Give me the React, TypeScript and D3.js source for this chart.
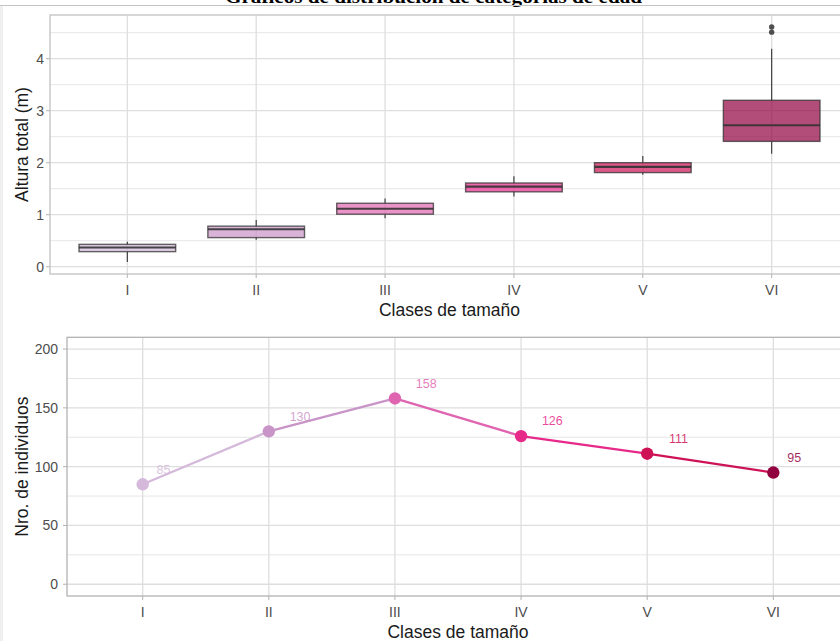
import React from 'react';
import * as d3 from 'd3';

const categories = ['I', 'II', 'III', 'IV', 'V', 'VI'];
const boxMin = [0.09, 0.52, 0.93, 1.35, 1.77, 2.17];
const boxQ1 = [0.29, 0.56, 1.01, 1.44, 1.81, 2.41];
const boxMedian = [0.37, 0.72, 1.115, 1.54, 1.92, 2.72];
const boxQ3 = [0.43, 0.78, 1.22, 1.61, 2.0, 3.2];
const boxMax = [0.48, 0.9, 1.31, 1.74, 2.13, 4.19];
const outliersVI = [4.61, 4.51];
const counts = [85, 130, 158, 126, 111, 95];
const colors = ['#d4b9da', '#c994c7', '#df65b0', '#e7298a', '#ce1256', '#91003f'];
const topTicks = [0, 1, 2, 3, 4];
const topMinor = [0.5, 1.5, 2.5, 3.5, 4.5];
const botTicks = [0, 50, 100, 150, 200];
const botMinor = [25, 75, 125, 175];

const title = 'Gráficos de distribución de categorías de edad';
const xTitle = 'Clases de tamaño';
const yTitleTop = 'Altura total (m)';
const yTitleBot = 'Nro. de individuos';

const FONT = '"Liberation Sans", Arial, sans-serif';

export default function App() {
  // top panel
  const tL = 50, tR = 849, tT = 15, tB = 274;
  const xTop = d3.scalePoint<string>().domain(categories).range([tL, tR]).padding(0.6);
  const yTop = d3.scaleLinear().domain([-0.14, 4.84]).range([tB, tT]);
  const bw = xTop.step() * 0.75;

  // bottom panel
  const bL = 67, bR = 849, bT = 337.3, bB = 596;
  const xBot = d3.scalePoint<string>().domain(categories).range([bL, bR]).padding(0.6);
  const yBot = d3.scaleLinear().domain([-10, 210]).range([bB, bT]);

  const pts = categories.map((c, i) => [xBot(c)!, yBot(counts[i])] as [number, number]);
  const lineGen = d3.line();

  return (
    <svg width={840} height={641} style={{ position: 'absolute', left: 0, top: 0, background: '#fff' }} fontFamily={FONT}>
      <rect x={0} y={0} width={840} height={641} fill="#fff" />
      {/* page decorations */}
      <text x={433.5} y={2.5} textAnchor="middle" fontFamily='"Liberation Serif", "Times New Roman", serif' fontWeight="bold" fontSize={18} textLength={417} lengthAdjust="spacingAndGlyphs" fill="#000">{title}</text>
      <line x1={0} x2={840} y1={5.5} y2={5.5} stroke="#c4c4c4" strokeWidth={1} />
      <rect x={0} y={6} width={3} height={635} fill="#efefef" />

      {/* ===== TOP PANEL ===== */}
      <g>
        {topMinor.map((v) => (
          <line key={'tm' + v} x1={tL} x2={tR} y1={yTop(v)} y2={yTop(v)} stroke="#e6e6e6" strokeWidth={1} />
        ))}
        {topTicks.map((v) => (
          <line key={'tM' + v} x1={tL} x2={tR} y1={yTop(v)} y2={yTop(v)} stroke="#dedede" strokeWidth={1.3} />
        ))}
        {categories.map((c) => (
          <line key={'tv' + c} x1={xTop(c)} x2={xTop(c)} y1={tT} y2={tB} stroke="#dedede" strokeWidth={1.3} />
        ))}
        {categories.map((c, i) => {
          const cx = xTop(c)!;
          return (
            <g key={'box' + c}>
              <line x1={cx} x2={cx} y1={yTop(boxMax[i])} y2={yTop(boxQ3[i])} stroke="#333" strokeWidth={1.1} />
              <line x1={cx} x2={cx} y1={yTop(boxQ1[i])} y2={yTop(boxMin[i])} stroke="#333" strokeWidth={1.1} />
              <rect x={cx - bw / 2} y={yTop(boxQ3[i])} width={bw} height={yTop(boxQ1[i]) - yTop(boxQ3[i])} fill={colors[i]} fillOpacity={0.7} stroke="#333" strokeOpacity={0.75} strokeWidth={1.4} />
              <line x1={cx - bw / 2} x2={cx + bw / 2} y1={yTop(boxMedian[i])} y2={yTop(boxMedian[i])} stroke="#333" strokeOpacity={0.9} strokeWidth={2.2} />
            </g>
          );
        })}
        {outliersVI.map((v, k) => (
          <circle key={'o' + k} cx={xTop('VI')} cy={yTop(v)} r={2.7} fill="#333" fillOpacity={0.85} />
        ))}
        <rect x={tL} y={tT} width={tR - tL} height={tB - tT} fill="none" stroke="#cccccc" strokeWidth={1.6} />
        {topTicks.map((v) => (
          <g key={'tyt' + v}>
            <line x1={tL - 4} x2={tL} y1={yTop(v)} y2={yTop(v)} stroke="#b3b3b3" strokeWidth={1} />
            <text x={tL - 6} y={yTop(v)} dy="0.35em" textAnchor="end" fontSize={14} fill="#4d4d4d">{v}</text>
          </g>
        ))}
        {categories.map((c) => (
          <g key={'txt' + c}>
            <line x1={xTop(c)} x2={xTop(c)} y1={tB} y2={tB + 4} stroke="#b3b3b3" strokeWidth={1} />
            <text x={xTop(c)} y={290} dy="0.35em" textAnchor="middle" fontSize={14} fill="#4d4d4d">{c}</text>
          </g>
        ))}
        <text x={(tL + tR) / 2} y={310} dy="0.35em" textAnchor="middle" fontSize={17.5} fill="#1a1a1a">{xTitle}</text>
        <text transform={`translate(22,${(tT + tB) / 2}) rotate(-90)`} dy="0.35em" textAnchor="middle" fontSize={17.5} fill="#1a1a1a">{yTitleTop}</text>
      </g>

      {/* ===== BOTTOM PANEL ===== */}
      <g>
        {botMinor.map((v) => (
          <line key={'bm' + v} x1={bL} x2={bR} y1={yBot(v)} y2={yBot(v)} stroke="#e6e6e6" strokeWidth={1} />
        ))}
        {botTicks.map((v) => (
          <line key={'bM' + v} x1={bL} x2={bR} y1={yBot(v)} y2={yBot(v)} stroke="#dedede" strokeWidth={1.3} />
        ))}
        {categories.map((c) => (
          <line key={'bv' + c} x1={xBot(c)} x2={xBot(c)} y1={bT} y2={bB} stroke="#dedede" strokeWidth={1.3} />
        ))}
        {pts.slice(0, -1).map((p, i) => (
          <path key={'seg' + i} d={lineGen([p, pts[i + 1]])!} stroke={colors[i]} strokeWidth={2.3} fill="none" />
        ))}
        {pts.map((p, i) => (
          <circle key={'pt' + i} cx={p[0]} cy={p[1]} r={6.2} fill={colors[i]} />
        ))}
        {counts.map((v, i) => {
          const s = String(v);
          const w = s.length * 0.556 * 12.5;
          return (
            <text key={'lab' + i} x={pts[i][0] + 1.5 * w} y={pts[i][1] - 15} dy="0.35em" textAnchor="middle" fontSize={12.5} fill={colors[i]} fillOpacity={0.85}>{s}</text>
          );
        })}
        <rect x={bL} y={bT} width={bR - bL} height={bB - bT} fill="none" stroke="#b3b3b3" strokeWidth={1.3} />
        {botTicks.map((v) => (
          <g key={'byt' + v}>
            <line x1={bL - 4} x2={bL} y1={yBot(v)} y2={yBot(v)} stroke="#b3b3b3" strokeWidth={1} />
            <text x={bL - 9} y={yBot(v)} dy="0.35em" textAnchor="end" fontSize={14} fill="#4d4d4d">{v}</text>
          </g>
        ))}
        {categories.map((c) => (
          <g key={'bxt' + c}>
            <line x1={xBot(c)} x2={xBot(c)} y1={bB} y2={bB + 4} stroke="#b3b3b3" strokeWidth={1} />
            <text x={xBot(c)} y={612.3} dy="0.35em" textAnchor="middle" fontSize={14} fill="#4d4d4d">{c}</text>
          </g>
        ))}
        <text x={(bL + bR) / 2} y={631.5} dy="0.35em" textAnchor="middle" fontSize={17.5} fill="#1a1a1a">{xTitle}</text>
        <text transform={`translate(22,${(bT + bB) / 2}) rotate(-90)`} dy="0.35em" textAnchor="middle" fontSize={17.5} fill="#1a1a1a">{yTitleBot}</text>
      </g>
    </svg>
  );
}
